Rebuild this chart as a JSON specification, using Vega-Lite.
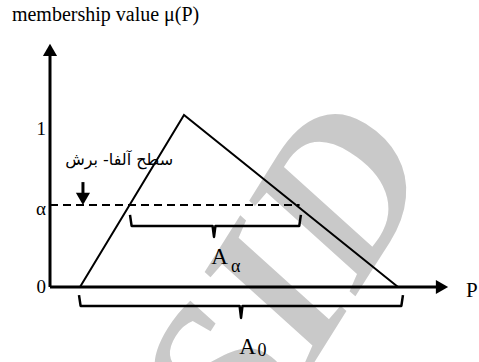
{
  "$schema": "https://vega.github.io/schema/vega-lite/v6.json",
  "width": 479,
  "height": 362,
  "padding": 0,
  "autosize": {"type": "none"},
  "background": "white",
  "config": {"view": {"stroke": null}},
  "datasets": {
    "watermark": [{"x": 7.45, "y": 0.035, "label": "SID"}],
    "axes": [
      {"g": "y", "o": 0, "x": 0, "y": 0},
      {"g": "y", "o": 1, "x": 0, "y": 1.36},
      {"g": "x", "o": 0, "x": 0, "y": 0},
      {"g": "x", "o": 1, "x": 12.2, "y": 0}
    ],
    "triangle": [
      {"o": 0, "x": 0.9375, "y": 0},
      {"o": 1, "x": 4.1875, "y": 1},
      {"o": 2, "x": 10.875, "y": 0}
    ],
    "cut": [
      {"o": 0, "x": 0, "y": 0.477},
      {"o": 1, "x": 7.8, "y": 0.477}
    ],
    "stem": [
      {"o": 0, "x": 1.03, "y": 0.61},
      {"o": 1, "x": 1.03, "y": 0.54}
    ],
    "braces": [
      {"g": "a", "o": 0, "x": 2.5, "y": 0.419},
      {"g": "a", "o": 1, "x": 2.55, "y": 0.355},
      {"g": "a", "o": 2, "x": 5.08, "y": 0.355},
      {"g": "a", "o": 3, "x": 5.125, "y": 0.291},
      {"g": "a", "o": 4, "x": 5.17, "y": 0.355},
      {"g": "a", "o": 5, "x": 7.79, "y": 0.355},
      {"g": "a", "o": 6, "x": 7.84, "y": 0.419},
      {"g": "z", "o": 0, "x": 0.906, "y": -0.047},
      {"g": "z", "o": 1, "x": 0.956, "y": -0.11},
      {"g": "z", "o": 2, "x": 5.925, "y": -0.11},
      {"g": "z", "o": 3, "x": 5.97, "y": -0.18},
      {"g": "z", "o": 4, "x": 6.015, "y": -0.11},
      {"g": "z", "o": 5, "x": 10.98, "y": -0.11},
      {"g": "z", "o": 6, "x": 11.03, "y": -0.047}
    ],
    "heads": [
      {"dir": "up", "x": 0, "y": 1.378},
      {"dir": "right", "x": 12.25, "y": 0},
      {"dir": "down", "x": 1.03, "y": 0.512}
    ],
    "ticklabels": [
      {"x": -0.125, "y": 0.919, "label": "1"},
      {"x": -0.125, "y": 0, "label": "0"},
      {"x": -0.125, "y": 0.453, "label": "α"}
    ],
    "plabel": [{"x": 13.0, "y": -0.023, "label": "P"}],
    "title": [{"x": -1.19, "y": 1.58, "label": "membership value μ(P)"}],
    "persian": [{"x": 2.16, "y": 0.738, "label": "سطح آلفا- برش"}],
    "bigA": [
      {"x": 5.3, "y": 0.174, "label": "A"},
      {"x": 6.17, "y": -0.346, "label": "A"}
    ],
    "subs": [
      {"x": 5.8, "y": 0.119, "label": "α"},
      {"x": 6.625, "y": -0.372, "label": "0"}
    ]
  },
  "encoding": {
    "x": {"field": "x", "type": "quantitative", "scale": {"domain": [-1.5625, 13.40625], "nice": false, "zero": false}, "axis": null},
    "y": {"field": "y", "type": "quantitative", "scale": {"domain": [-0.436, 1.6686], "nice": false, "zero": false}, "axis": null}
  },
  "layer": [
    {
      "data": {"name": "watermark"},
      "mark": {"type": "text", "font": "Liberation Serif", "fontStyle": "italic", "fontWeight": "bold", "fontSize": 215, "angle": -58, "color": "#c9c9c9", "align": "center", "baseline": "middle"},
      "encoding": {"text": {"field": "label"}}
    },
    {
      "data": {"name": "axes"},
      "mark": {"type": "line", "color": "black", "strokeWidth": 3},
      "encoding": {"detail": {"field": "g"}, "order": {"field": "o"}}
    },
    {
      "data": {"name": "triangle"},
      "mark": {"type": "line", "color": "black", "strokeWidth": 2},
      "encoding": {"order": {"field": "o"}}
    },
    {
      "data": {"name": "cut"},
      "mark": {"type": "line", "color": "black", "strokeWidth": 2, "strokeDash": [8, 5]},
      "encoding": {"order": {"field": "o"}}
    },
    {
      "data": {"name": "stem"},
      "mark": {"type": "line", "color": "black", "strokeWidth": 3},
      "encoding": {"order": {"field": "o"}}
    },
    {
      "data": {"name": "braces"},
      "mark": {"type": "line", "color": "black", "strokeWidth": 2.5, "strokeJoin": "round"},
      "encoding": {"detail": {"field": "g"}, "order": {"field": "o"}}
    },
    {
      "data": {"name": "heads"},
      "mark": {"type": "point", "filled": true, "color": "black", "opacity": 1, "size": 200},
      "encoding": {
        "shape": {"field": "dir", "type": "nominal", "scale": {"domain": ["up", "right", "down"], "range": ["triangle-up", "triangle-right", "triangle-down"]}, "legend": null}
      }
    },
    {
      "data": {"name": "ticklabels"},
      "mark": {"type": "text", "font": "Liberation Serif", "fontSize": 19, "align": "right", "baseline": "middle", "color": "black"},
      "encoding": {"text": {"field": "label"}}
    },
    {
      "data": {"name": "plabel"},
      "mark": {"type": "text", "font": "Liberation Serif", "fontSize": 21, "align": "left", "baseline": "middle", "color": "black"},
      "encoding": {"text": {"field": "label"}}
    },
    {
      "data": {"name": "title"},
      "mark": {"type": "text", "font": "Liberation Serif", "fontSize": 20, "align": "left", "baseline": "middle", "color": "black"},
      "encoding": {"text": {"field": "label"}}
    },
    {
      "data": {"name": "persian"},
      "mark": {"type": "text", "font": "DejaVu Sans", "fontSize": 16, "align": "center", "baseline": "middle", "color": "black"},
      "encoding": {"text": {"field": "label"}}
    },
    {
      "data": {"name": "bigA"},
      "mark": {"type": "text", "font": "Liberation Serif", "fontSize": 23, "align": "center", "baseline": "middle", "color": "black"},
      "encoding": {"text": {"field": "label"}}
    },
    {
      "data": {"name": "subs"},
      "mark": {"type": "text", "font": "Liberation Serif", "fontSize": 18, "align": "center", "baseline": "middle", "color": "black"},
      "encoding": {"text": {"field": "label"}}
    }
  ]
}
